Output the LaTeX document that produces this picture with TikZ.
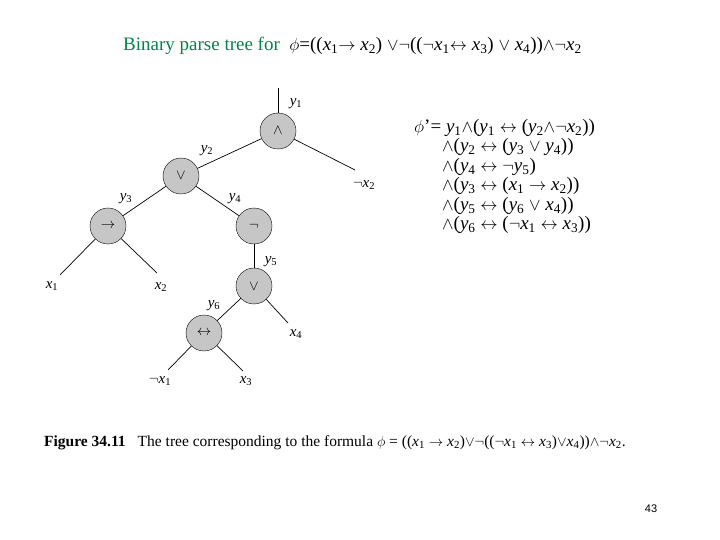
\documentclass[tikz,border=0pt]{standalone}
\usepackage{fontspec}
\setmainfont{Liberation Serif}
\newfontfamily\sans{Liberation Sans}
\newcommand{\vv}[2]{\textit{#1}\textsubscript{#2}}
\begin{document}
\begin{tikzpicture}[x=1pt,y=-1pt,
  op/.style={circle,draw,fill=gray!45,minimum size=36pt,inner sep=0pt,font=\fontsize{14}{14}\selectfont},
  lbl/.style={inner sep=0pt,font=\fontsize{15}{15}\selectfont},
  ln/.style={line width=0.7pt}]
\useasboundingbox (0,0) rectangle (720,540);
\node[inner sep=0pt,anchor=west,font=\fontsize{19}{19}\selectfont] (title) at (123,46) {\textcolor{teal!70!green!80!black}{Binary parse tree for} \ $\phi$=((\vv{x}{1}$\rightarrow$ \vv{x}{2}) $\vee\neg$(($\neg$\vv{x}{1}$\leftrightarrow$ \vv{x}{3}) $\vee$ \vv{x}{4}))$\wedge\neg$\vv{x}{2}};
\node[op] (n1) at (278,131) {$\wedge$};
\node[op] (n2) at (181,176) {$\vee$};
\node[op] (n3) at (108,226) {$\rightarrow$};
\node[op] (n4) at (254,226) {$\neg$};
\node[op] (n5) at (254,286) {$\vee$};
\node[op] (n6) at (204,333) {$\leftrightarrow$};
\coordinate (top) at (278,88);
\coordinate (e1) at (355,170);
\coordinate (e2) at (60,275);
\coordinate (e3) at (157,273);
\coordinate (e4) at (288,323);
\coordinate (e5) at (168,370);
\coordinate (e6) at (243,371);
\draw[ln] (top)--(n1); \draw[ln] (n1)--(e1); \draw[ln] (n1)--(n2);
\draw[ln] (n2)--(n3); \draw[ln] (n2)--(n4); \draw[ln] (n3)--(e2); \draw[ln] (n3)--(e3);
\draw[ln] (n4)--(n5); \draw[ln] (n5)--(n6); \draw[ln] (n5)--(e4);
\draw[ln] (n6)--(e5); \draw[ln] (n6)--(e6);
\node[lbl] (l1) at (296,104) {\vv{y}{1}};
\node[lbl] (l2) at (207,151) {\vv{y}{2}};
\node[lbl] (l3) at (126,199) {\vv{y}{3}};
\node[lbl] (l4) at (235,199) {\vv{y}{4}};
\node[lbl] (l5) at (271,262) {\vv{y}{5}};
\node[lbl] (l6) at (214,306) {\vv{y}{6}};
\node[lbl] (x2n) at (364,185) {$\neg$\vv{x}{2}};
\node[lbl] (x1) at (52,286) {\vv{x}{1}};
\node[lbl] (x2) at (161,287) {\vv{x}{2}};
\node[lbl] (x4) at (296,334) {\vv{x}{4}};
\node[lbl] (x1n) at (160,381) {$\neg$\vv{x}{1}};
\node[lbl] (x3) at (246,381) {\vv{x}{3}};
\node[inner sep=0pt,anchor=north west,font=\fontsize{19}{19.5}\selectfont,align=left] (f) at (414,119) {%
$\phi$'= \vv{y}{1}$\wedge$(\vv{y}{1} $\leftrightarrow$ (\vv{y}{2}$\wedge$$\neg$\vv{x}{2}))\\
\hspace*{28pt}$\wedge$(\vv{y}{2} $\leftrightarrow$ (\vv{y}{3} $\vee$ \vv{y}{4}))\\
\hspace*{28pt}$\wedge$(\vv{y}{4} $\leftrightarrow$ $\neg$\vv{y}{5})\\
\hspace*{28pt}$\wedge$(\vv{y}{3} $\leftrightarrow$ (\vv{x}{1} $\rightarrow$ \vv{x}{2}))\\
\hspace*{28pt}$\wedge$(\vv{y}{5} $\leftrightarrow$ (\vv{y}{6} $\vee$ \vv{x}{4}))\\
\hspace*{28pt}$\wedge$(\vv{y}{6} $\leftrightarrow$ ($\neg$\vv{x}{1} $\leftrightarrow$ \vv{x}{3}))};
\node[inner sep=0pt,anchor=west,font=\fontsize{15.5}{15.5}\selectfont] (cap) at (44,443) {\textbf{Figure 34.11}\hspace{12pt}The tree corresponding to the formula $\phi$ = ((\vv{x}{1} $\rightarrow$ \vv{x}{2})$\vee\neg$(($\neg$\vv{x}{1} $\leftrightarrow$ \vv{x}{3})$\vee$\vv{x}{4}))$\wedge\neg$\vv{x}{2}.};
\node[inner sep=0pt,font=\sans\fontsize{11}{11}\selectfont] (pg) at (651,509) {43};
\end{tikzpicture}
\end{document}
